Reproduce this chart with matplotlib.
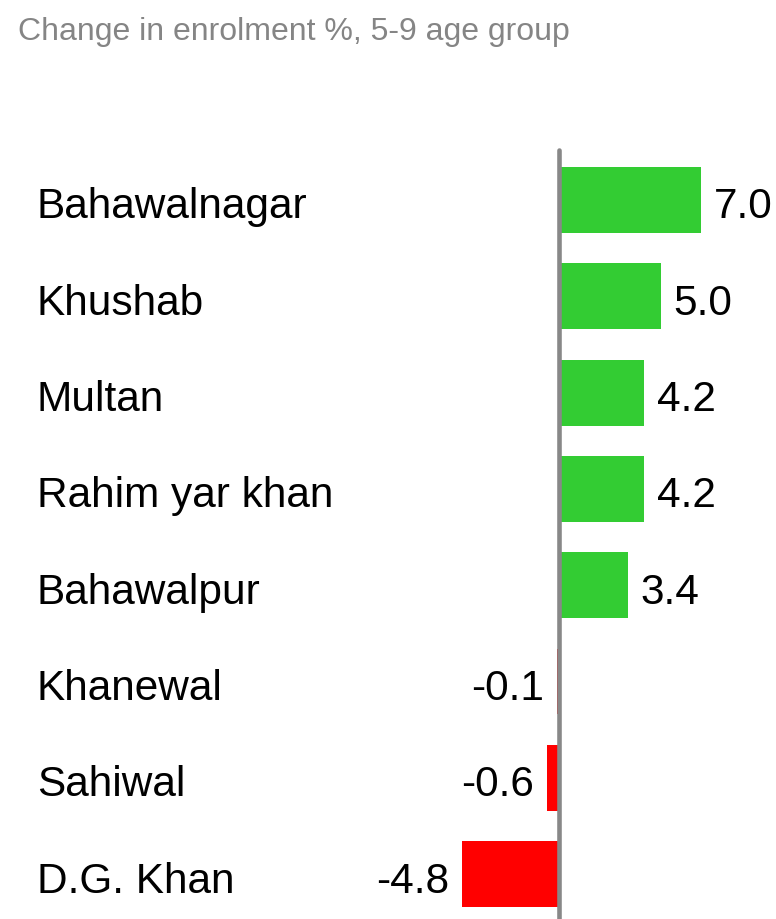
import matplotlib.pyplot as plt
import numpy as np

plt.rcParams["font.family"] = ["Liberation Sans", "DejaVu Sans"]

districts = ["Bahawalnagar", "Khushab", "Multan", "Rahim yar khan",
             "Bahawalpur", "Khanewal", "Sahiwal", "D.G. Khan"]
change = [7.0, 5.0, 4.2, 4.2, 3.4, -0.1, -0.6, -4.8]
title = "Change in enrolment %, 5-9 age group"

GREEN = "#33cc33"
RED = "#ff0000"
AXIS_GRAY = "#888888"
TITLE_GRAY = "#858585"

W, H = 776, 920
fig = plt.figure(figsize=(W / 100, H / 100), dpi=100)
ax = fig.add_axes([0, 0, 1, 1])

# pixel layout: zero line at x=559, ~20.3 px per unit; rows 96.3 px apart
zero_px, px_per_unit = 559, 20.3
row0_px, pitch = 201, 96.3
ax.set_xlim(-zero_px / px_per_unit, (W - zero_px) / px_per_unit)
ax.set_ylim((H - row0_px) / pitch, -row0_px / pitch)
ax.axis("off")

y = np.arange(len(districts))
colors = [GREEN if v >= 0 else RED for v in change]
ax.barh(y, change, height=0.685, color=colors, edgecolor="none", zorder=2)

# zero line
ax.plot([0, 0], [-0.52, ax.get_ylim()[0] + 0.1], color=AXIS_GRAY, lw=3.3,
        solid_capstyle="round", zorder=3)

for yi, name, v in zip(y, districts, change):
    ax.text(37 / W, yi + 0.02, name, transform=ax.get_yaxis_transform(),
            ha="left", va="center_baseline", fontsize=30.5, color="black")
    if v >= 0:
        ax.annotate(f"{v:.1f}", (v, yi + 0.02), xytext=(9, 0), textcoords="offset points",
                    ha="left", va="center_baseline", fontsize=30.5)
    else:
        ax.annotate(f"{v:.1f}", (v, yi + 0.02), xytext=(-9, 0), textcoords="offset points",
                    ha="right", va="center_baseline", fontsize=30.5)

fig.text(18 / W, 1 - 40 / H, title, ha="left", va="baseline",
         fontsize=23, color=TITLE_GRAY)

fig.savefig("out.png", dpi=100)
